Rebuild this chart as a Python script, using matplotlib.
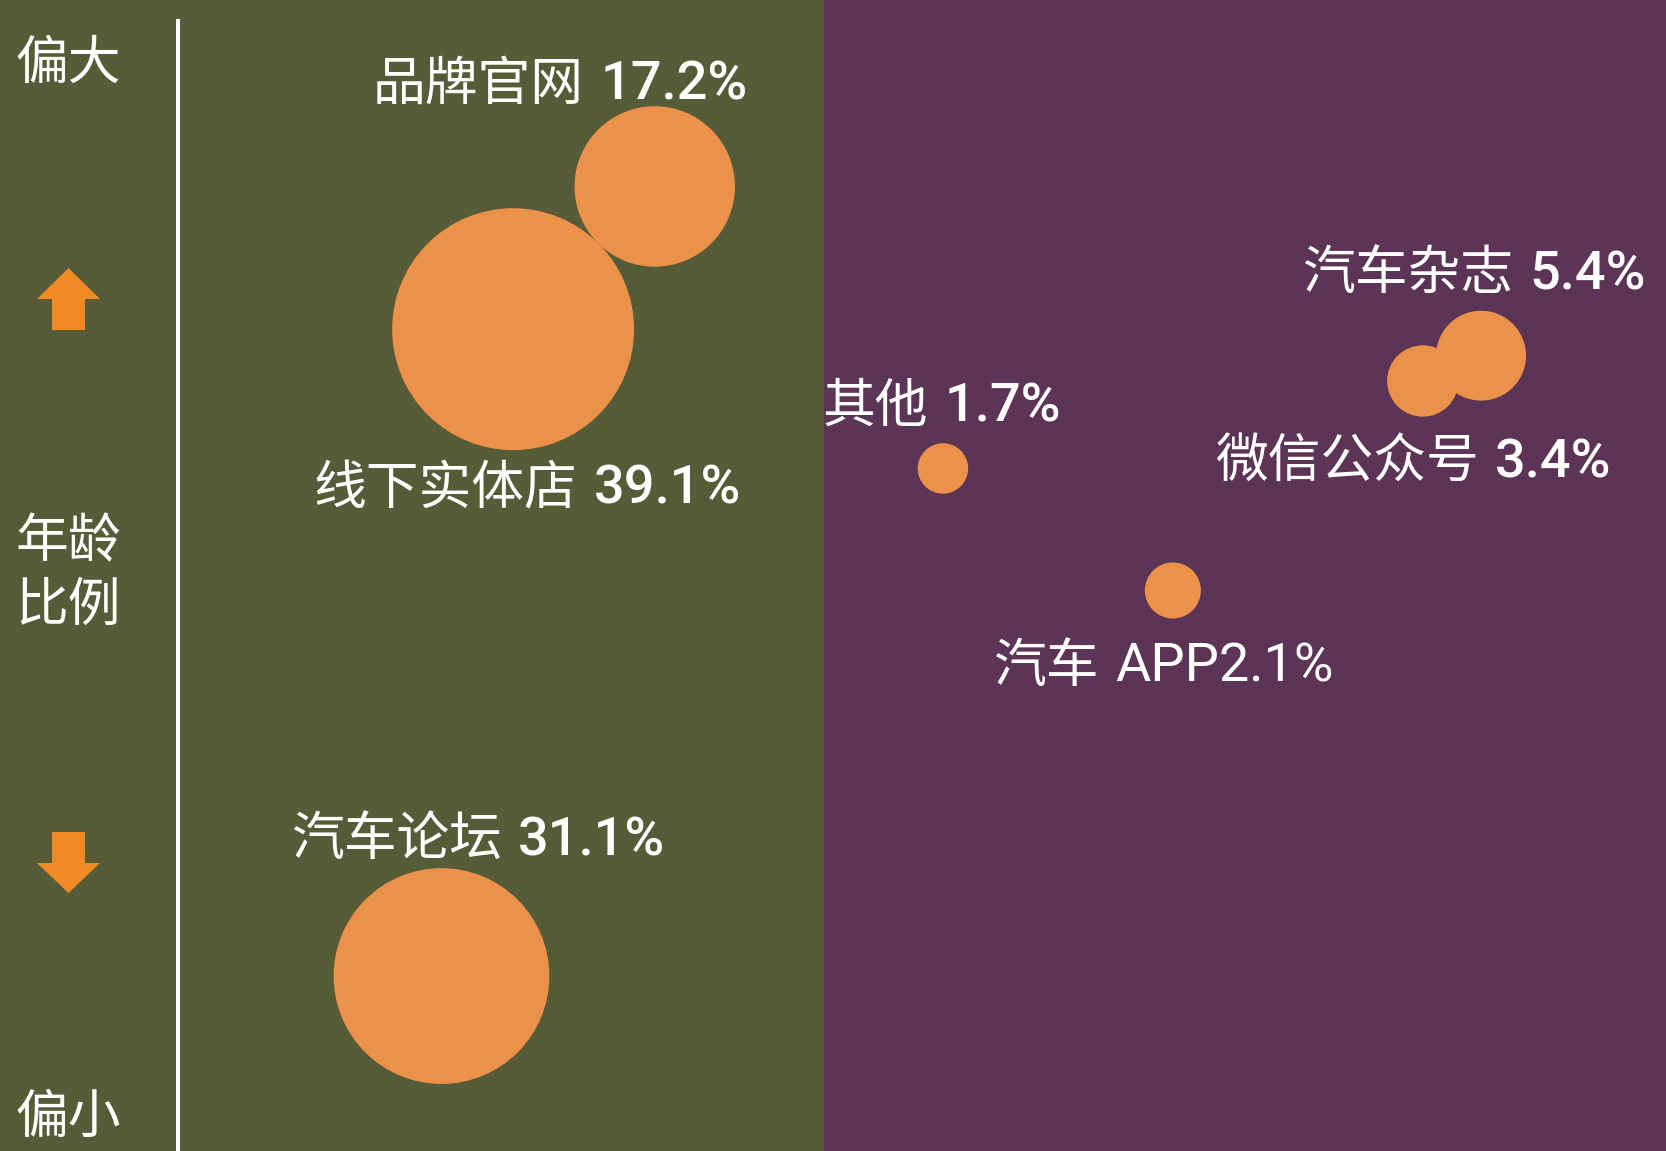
import matplotlib
matplotlib.use("Agg")
import matplotlib.pyplot as plt
from matplotlib.patches import FancyArrow

# ------- Data -------
channels = ['品牌官网', '线下实体店', '汽车论坛', '其他', '汽车杂志', '微信公众号', '汽车 APP']
share = [17.2, 39.1, 31.1, 1.7, 5.4, 3.4, 2.1]
# bubble position: x = channel type (offline left / online right), y = age (older up)
x_pos = [39.3, 30.8, 26.5, 56.6, 88.9, 85.4, 70.4]
y_pos = [83.8, 71.4, 15.2, 59.3, 69.1, 66.9, 48.7]

side_top = '偏大'
side_mid = ['年龄', '比例']
side_bottom = '偏小'

# ------- Layout / style -------
W, H = 1666, 1151
green = '#565c37'
purple = '#5c3456'
bubble_col = '#ec9149'
arrow_col = '#f08a24'
bubble_scale = 776          # marker area (pt^2) per percent
split_x = 824 / W * 100

cjk = ['Noto Sans CJK SC', 'DejaVu Sans']
num = ['Roboto', 'DejaVu Sans']

# label anchor (gap between name and value) and baseline, in figure %
lab_x = [592, 586, 510, 936, 1521, 1487, 1107]
lab_y = [100, 504, 855, 422, 289, 477, 682]
lab_x = [v / W * 100 for v in lab_x]
lab_y = [100 - v / H * 100 for v in lab_y]

fig = plt.figure(figsize=(W / 100, H / 100), dpi=100)
ax = fig.add_axes([0, 0, 1, 1])
ax.set_xlim(0, 100)
ax.set_ylim(0, 100)
ax.axis('off')

ax.axvspan(0, split_x, color=green, zorder=0)
ax.axvspan(split_x, 100, color=purple, zorder=0)

# white separator line
ax.axvline(178 / W * 100, ymin=0, ymax=1 - 21 / H, color='white', lw=2.9, zorder=1)

# bubbles
ax.scatter(x_pos, y_pos, s=[bubble_scale * v for v in share], color=bubble_col,
           linewidths=0, zorder=2)

# labels
for name, v, lx, ly in zip(channels, share, lab_x, lab_y):
    pct = f'{v}%'
    weight = 'medium'
    if name.endswith('APP'):
        pct = 'APP' + pct
        name = name[:-3].strip()
        weight = 'normal'
    ax.annotate(name, (lx, ly), xytext=(-6, 0), textcoords='offset points',
                ha='right', va='baseline', fontsize=38, color='white',
                family=cjk, fontweight='light', zorder=3)
    ax.annotate(pct, (lx, ly), xytext=(6, 0), textcoords='offset points',
                ha='left', va='baseline', fontsize=39, color='white',
                family=num, fontweight=weight, zorder=3)

# left side legend text
sx = 15 / W * 100
ax.text(sx, 100 - 79 / H * 100, side_top, ha='left', va='baseline', fontsize=38,
        color='white', family=cjk, fontweight='light')
ax.text(sx, 100 - 557 / H * 100, side_mid[0], ha='left', va='baseline', fontsize=38,
        color='white', family=cjk, fontweight='light')
ax.text(sx, 100 - 621 / H * 100, side_mid[1], ha='left', va='baseline', fontsize=38,
        color='white', family=cjk, fontweight='light')
ax.text(sx, 100 - 1133 / H * 100, side_bottom, ha='left', va='baseline', fontsize=38,
        color='white', family=cjk, fontweight='light')

# arrows
ax_x = 68.5 / W * 100
shaft_w = 33 / W * 100
head_w = 63 / W * 100
up = FancyArrow(ax_x, 100 - 330 / H * 100, 0, 62 / H * 100, width=shaft_w,
                head_width=head_w, head_length=31 / H * 100,
                length_includes_head=True, color=arrow_col, lw=0, zorder=2)
down = FancyArrow(ax_x, 100 - 832 / H * 100, 0, -61 / H * 100, width=shaft_w,
                  head_width=head_w, head_length=30 / H * 100,
                  length_includes_head=True, color=arrow_col, lw=0, zorder=2)
ax.add_patch(up)
ax.add_patch(down)

fig.savefig('out.png', dpi=100)
